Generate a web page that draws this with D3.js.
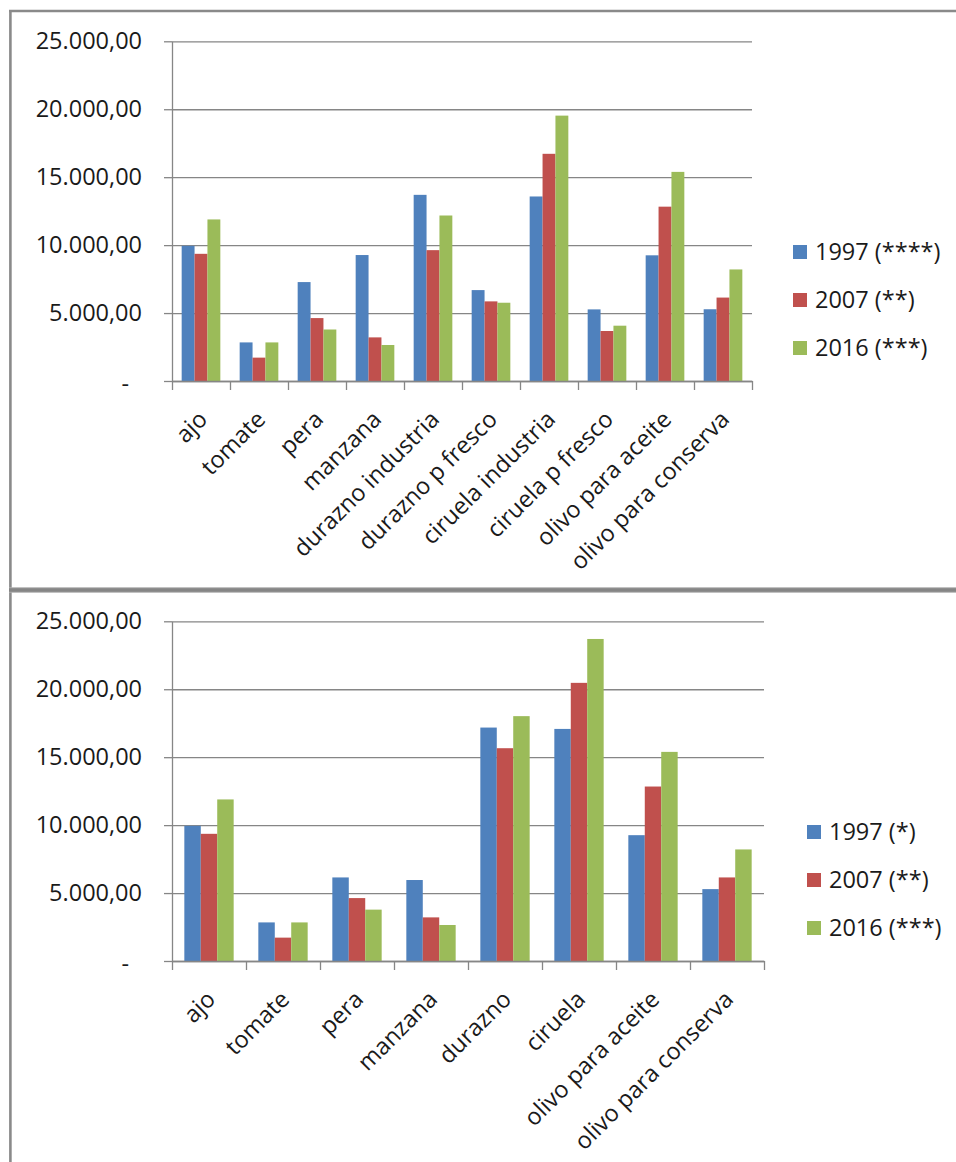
<!DOCTYPE html>
<html>
<head>
<meta charset="utf-8">
<script src="https://cdn.jsdelivr.net/npm/d3@7/dist/d3.min.js"></script>
<style>
  html, body { margin: 0; padding: 0; background: #fff; }
  svg { display: block; }
  text { font-family: "Open Sans", "Liberation Sans", sans-serif; fill: #1a1a1a; }
</style>
</head>
<body>
<svg id="chart" width="956" height="1162"></svg>
<script>
// Series colours (1997, 2007, 2016)
const seriesColors = ["#4F81BD", "#C0504D", "#9BBB59"];

// Value axis ticks
const yTicks = [0, 5000, 10000, 15000, 20000, 25000];

// Upper chart: crops split into industry / fresh market
const catsTop = ["ajo", "tomate", "pera", "manzana", "durazno industria", "durazno p fresco",
                 "ciruela industria", "ciruela p fresco", "olivo para aceite", "olivo para conserva"];
const top1997 = [9950, 2840, 7280, 9270, 13700, 6690, 13580, 5270, 9250, 5280];
const top2007 = [9360, 1720, 4630, 3210, 9630, 5860, 16720, 3680, 12830, 6140];
const top2016 = [11890, 2840, 3790, 2650, 12180, 5760, 19530, 4070, 15390, 8210];
const legendTop = ["1997 (****)", "2007 (**)", "2016 (***)"];

// Lower chart: peach and plum aggregated
const catsBottom = ["ajo", "tomate", "pera", "manzana", "durazno", "ciruela",
                    "olivo para aceite", "olivo para conserva"];
const bottom1997 = [9950, 2840, 6150, 5960, 17180, 17080, 9260, 5290];
const bottom2007 = [9360, 1720, 4630, 3210, 15660, 20470, 12840, 6150];
const bottom2016 = [11890, 2840, 3780, 2650, 18020, 23700, 15390, 8210];
const legendBottom = ["1997 (*)", "2007 (**)", "2016 (***)"];

const svg = d3.select("#chart");
const axisColor = "#868686";
const fontSize = 23.5;

// Formats 12345 as "12.345,00"; zero shows as a dash
const fmtEs = d3.formatLocale({ decimal: ",", thousands: ".", grouping: [3], currency: ["", ""] }).format(",.2f");
const tickLabel = v => v === 0 ? "-" : fmtEs(v);

function drawChart(cfg) {
  const g = svg.append("g");
  const series = [cfg.s1997, cfg.s2007, cfg.s2016];

  const x0 = d3.scaleBand().domain(cfg.cats).range([cfg.left, cfg.right]).padding(0);
  const x1 = d3.scaleBand().domain([0, 1, 2]).range([0, x0.bandwidth()])
    .paddingInner(0).paddingOuter(0.75);
  const y = d3.scaleLinear().domain([0, 25000]).range([cfg.bottom, cfg.top]);

  // Horizontal gridlines
  g.append("g")
    .attr("transform", `translate(${cfg.left},0)`)
    .call(d3.axisLeft(y).tickValues(yTicks).tickSize(-(cfg.right - cfg.left)).tickFormat(""))
    .call(a => a.select(".domain").remove())
    .call(a => a.selectAll("line").attr("stroke", axisColor).attr("stroke-width", 1.3));

  // Value axis with outside ticks and labels
  g.append("g")
    .attr("transform", `translate(${cfg.left},0)`)
    .call(d3.axisLeft(y).tickValues(yTicks).tickSize(8).tickSizeOuter(0).tickPadding(22).tickFormat(tickLabel))
    .call(a => a.select(".domain").attr("stroke", axisColor).attr("stroke-width", 1.3))
    .call(a => a.selectAll("line").attr("stroke", axisColor).attr("stroke-width", 1.3))
    .call(a => a.selectAll("text").attr("font-size", fontSize).attr("font-family", null).attr("fill", "#1a1a1a"))
    .call(a => a.selectAll("text").filter(d => d === 0).attr("dx", -13).attr("dy", "0.45em"));

  // Bars
  cfg.cats.forEach((c, i) => {
    series.forEach((s, k) => {
      g.append("rect")
        .attr("x", x0(c) + x1(k))
        .attr("y", y(s[i]))
        .attr("width", x1.bandwidth())
        .attr("height", y(0) - y(s[i]))
        .attr("fill", seriesColors[k]);
    });
  });

  // Category axis: ticks on category boundaries
  const xb = d3.scaleLinear().domain([0, cfg.cats.length]).range([cfg.left, cfg.right]);
  g.append("g")
    .attr("transform", `translate(0,${cfg.bottom})`)
    .call(d3.axisBottom(xb).tickValues(d3.range(cfg.cats.length + 1))
      .tickSize(9).tickSizeOuter(0).tickFormat(""))
    .call(a => a.select(".domain").attr("stroke", axisColor).attr("stroke-width", 1.3))
    .call(a => a.selectAll("line").attr("stroke", axisColor).attr("stroke-width", 1.3));

  // Rotated category labels
  g.append("g")
    .attr("transform", `translate(0,${cfg.bottom})`)
    .call(d3.axisBottom(x0).tickSize(0).tickPadding(0))
    .call(a => a.select(".domain").remove())
    .call(a => a.selectAll("text")
      .attr("font-size", fontSize).attr("font-family", null).attr("fill", "#1a1a1a")
      .attr("text-anchor", "end")
      .attr("x", 0).attr("y", 0).attr("dy", "0.35em")
      .attr("transform", "translate(2,34) rotate(-45)"));

  // Legend
  const lg = g.append("g").attr("transform", `translate(${cfg.legendX},0)`);
  cfg.legend.forEach((name, k) => {
    const cy = cfg.legendY + k * 48;
    lg.append("rect").attr("x", 0).attr("y", cy - 7).attr("width", 14).attr("height", 14)
      .attr("fill", seriesColors[k]);
    lg.append("text").attr("x", 22).attr("y", cy).attr("dy", "0.36em")
      .attr("font-size", fontSize).text(name);
  });
}

drawChart({ cats: catsTop, s1997: top1997, s2007: top2007, s2016: top2016, legend: legendTop,
            left: 172, right: 752, top: 41.3, bottom: 381, legendX: 793, legendY: 252 });
drawChart({ cats: catsBottom, s1997: bottom1997, s2007: bottom2007, s2016: bottom2016, legend: legendBottom,
            left: 172, right: 764, top: 621.3, bottom: 961, legendX: 807, legendY: 832 });

// Chart frames
const frame = svg.append("g").attr("fill", "none");
frame.append("line").attr("x1", 9).attr("x2", 956).attr("y1", 11).attr("y2", 11)
  .attr("stroke", "#8a8a8a").attr("stroke-width", 2.4);
frame.append("line").attr("x1", 10.4).attr("x2", 10.4).attr("y1", 10).attr("y2", 1162)
  .attr("stroke", "#8a8a8a").attr("stroke-width", 2.6);
frame.append("line").attr("x1", 9).attr("x2", 956).attr("y1", 590).attr("y2", 590)
  .attr("stroke", "#adadad").attr("stroke-width", 5.4);
frame.append("line").attr("x1", 9).attr("x2", 956).attr("y1", 590).attr("y2", 590)
  .attr("stroke", "#858585").attr("stroke-width", 3.6);
</script>
</body>
</html>
